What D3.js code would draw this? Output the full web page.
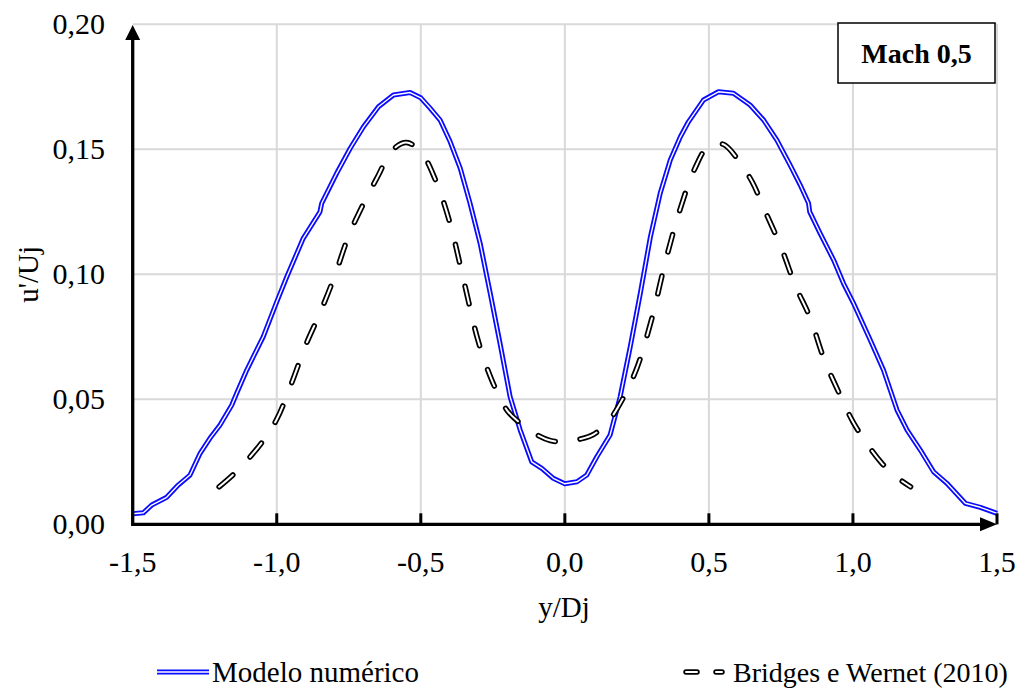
<!DOCTYPE html>
<html><head><meta charset="utf-8">
<script src="https://cdn.jsdelivr.net/npm/d3@7"></script>
<style>body{margin:0;background:#fff}svg{display:block}</style>
</head><body>
<svg id="c" width="1022" height="700"></svg>
<script>
// ---- data ----
const xTicks = [-1.5, -1.0, -0.5, 0.0, 0.5, 1.0, 1.5];
const yTicks = [0, 0.05, 0.10, 0.15, 0.20];
const modelX = [-1.5,-1.463,-1.434,-1.382,-1.342,-1.301,-1.266,-1.232,-1.197,-1.156,-1.139,-1.104,-1.047,-1.0,-0.965,-0.908,-0.850,-0.844,-0.792,-0.745,-0.699,-0.647,-0.595,-0.537,-0.500,-0.468,-0.433,-0.398,-0.363,-0.329,-0.294,-0.259,-0.225,-0.190,-0.155,-0.115,-0.080,-0.040,0.0,0.042,0.076,0.111,0.157,0.192,0.227,0.262,0.297,0.331,0.366,0.401,0.429,0.481,0.533,0.585,0.643,0.690,0.736,0.782,0.817,0.846,0.850,0.886,0.933,0.967,1.002,1.060,1.106,1.153,1.188,1.234,1.280,1.326,1.390,1.442,1.5];
const modelY = [0.0042,0.0046,0.0077,0.0108,0.0157,0.0197,0.0284,0.0344,0.0397,0.0477,0.0524,0.0617,0.075,0.089,0.099,0.1144,0.125,0.1284,0.1404,0.1504,0.159,0.167,0.1717,0.1727,0.1706,0.1665,0.1617,0.153,0.1424,0.1284,0.1124,0.0924,0.0724,0.051,0.0377,0.025,0.0224,0.0184,0.0162,0.017,0.0197,0.027,0.0357,0.051,0.071,0.0924,0.115,0.1324,0.1457,0.155,0.161,0.1697,0.173,0.1724,0.1677,0.1617,0.1537,0.1437,0.1357,0.1284,0.125,0.1164,0.1057,0.0964,0.0884,0.0737,0.0617,0.0457,0.0377,0.0297,0.021,0.0164,0.0084,0.0068,0.0044];
const expX = [-1.2,-1.15,-1.1,-1.05,-1.0,-0.95,-0.9,-0.85,-0.8,-0.75,-0.7,-0.65,-0.6,-0.55,-0.5,-0.45,-0.4,-0.35,-0.3,-0.25,-0.2,-0.15,-0.1,-0.05,0.0,0.05,0.1,0.15,0.2,0.25,0.3,0.35,0.4,0.45,0.5,0.55,0.6,0.65,0.7,0.75,0.8,0.85,0.9,0.95,1.0,1.05,1.1,1.15,1.2];
const expY = [0.015,0.020,0.026,0.033,0.042,0.056,0.0715,0.0845,0.099,0.1155,0.128,0.139,0.1495,0.1527,0.149,0.138,0.121,0.097,0.073,0.0567,0.0455,0.040,0.036,0.0335,0.033,0.034,0.036,0.041,0.050,0.0625,0.0815,0.1055,0.126,0.142,0.1515,0.152,0.146,0.137,0.124,0.111,0.0955,0.083,0.066,0.053,0.041,0.032,0.0245,0.019,0.015];
const seriesNames = ["Modelo numérico", "Bridges e Wernet (2010)"];
const xLabel = "y/Dj", yLabel = "u'/Uj", boxLabel = "Mach 0,5";

// ---- layout ----
const svg = d3.select("#c");
const x = d3.scaleLinear().domain([-1.5, 1.5]).range([132.7, 997]);
const y = d3.scaleLinear().domain([0, 0.2]).range([524.3, 24.3]);
const font = "'Liberation Serif','Times New Roman',serif";
const blue = "#0a0aff";

// gridlines
svg.append("g").selectAll("line").data(xTicks.slice(1)).join("line")
  .attr("x1", d => x(d)).attr("x2", d => x(d)).attr("y1", y(0)).attr("y2", y(0.2))
  .attr("stroke", "#d9d9d9").attr("stroke-width", 2);
svg.append("g").selectAll("line").data(yTicks.slice(1)).join("line")
  .attr("x1", x(-1.5)).attr("x2", x(1.5)).attr("y1", d => y(d)).attr("y2", d => y(d))
  .attr("stroke", "#d9d9d9").attr("stroke-width", 2);

// series
const model = modelX.map((v, i) => [v, modelY[i]]);
const exp = expX.map((v, i) => [v, expY[i]]);
const lineLin = d3.line().x(d => x(d[0])).y(d => y(d[1]));
const lineSmooth = d3.line().x(d => x(d[0])).y(d => y(d[1])).curve(d3.curveCatmullRom.alpha(0.5));

svg.append("path").attr("d", lineLin(model)).attr("fill", "none")
  .attr("stroke", blue).attr("stroke-width", 5).attr("stroke-linejoin", "round");
svg.append("path").attr("d", lineLin(model)).attr("fill", "none")
  .attr("stroke", "#fff").attr("stroke-width", 1.4).attr("stroke-linejoin", "round");

const dash = "18,25";
svg.append("path").attr("d", lineSmooth(exp)).attr("fill", "none")
  .attr("stroke", "#000").attr("stroke-width", 5.5).attr("stroke-dasharray", dash).attr("stroke-linecap", "round");
svg.append("path").attr("d", lineSmooth(exp)).attr("fill", "none")
  .attr("stroke", "#fff").attr("stroke-width", 2).attr("stroke-dasharray", dash).attr("stroke-linecap", "round");

// axes
const ax = svg.append("g");
ax.append("line").attr("x1", x(-1.5)).attr("x2", x(1.5) - 10).attr("y1", y(0)).attr("y2", y(0))
  .attr("stroke", "#000").attr("stroke-width", 3.3);
ax.append("path").attr("d", `M${x(1.5)},${y(0)} l-17,-7 l0,14 z`).attr("fill", "#000");
ax.append("line").attr("x1", x(-1.5)).attr("x2", x(-1.5)).attr("y1", y(0) + 1.6).attr("y2", 36)
  .attr("stroke", "#000").attr("stroke-width", 3.3);
ax.append("path").attr("d", `M${x(-1.5)},${25} l-7.5,15 l15,0 z`).attr("fill", "#000");
ax.selectAll(".tk").data(xTicks.slice(1)).join("line")
  .attr("x1", d => x(d)).attr("x2", d => x(d)).attr("y1", y(0)).attr("y2", y(0) - 11)
  .attr("stroke", "#000").attr("stroke-width", 3);

// tick labels
svg.append("g").selectAll("text").data(xTicks).join("text")
  .attr("x", d => x(d)).attr("y", 572).attr("text-anchor", "middle")
  .attr("font-family", font).attr("font-size", 30).text(d => d.toFixed(1).replace(".", ","));
svg.append("g").selectAll("text").data(yTicks).join("text")
  .attr("x", 105).attr("y", d => y(d) + 10).attr("text-anchor", "end")
  .attr("font-family", font).attr("font-size", 30).text(d => d.toFixed(2).replace(".", ","));

// axis titles
svg.append("text").attr("x", 564).attr("y", 617).attr("text-anchor", "middle")
  .attr("font-family", font).attr("font-size", 29).text(xLabel);
svg.append("text").attr("transform", `translate(38,${y(0.1)}) rotate(-90)`).attr("text-anchor", "middle")
  .attr("font-family", font).attr("font-size", 29).text(yLabel);

// Mach box
svg.append("rect").attr("x", 838).attr("y", 23).attr("width", 157).attr("height", 60)
  .attr("fill", "#fff").attr("stroke", "#000").attr("stroke-width", 1.5);
svg.append("text").attr("x", 916.5).attr("y", 63).attr("text-anchor", "middle")
  .attr("font-family", font).attr("font-weight", "bold").attr("font-size", 28).text(boxLabel);

// legend
const lg = svg.append("g");
const ly = 672;
lg.append("line").attr("x1", 157).attr("x2", 209).attr("y1", ly).attr("y2", ly)
  .attr("stroke", blue).attr("stroke-width", 5);
lg.append("line").attr("x1", 157).attr("x2", 209).attr("y1", ly).attr("y2", ly)
  .attr("stroke", "#fff").attr("stroke-width", 1.4);
lg.append("text").attr("x", 212).attr("y", ly + 10).attr("font-family", font).attr("font-size", 29).text(seriesNames[0]);
lg.append("line").attr("x1", 686).attr("x2", 722).attr("y1", ly).attr("y2", ly)
  .attr("stroke", "#000").attr("stroke-width", 5.5).attr("stroke-dasharray", "11,19").attr("stroke-linecap", "round");
lg.append("line").attr("x1", 686).attr("x2", 722).attr("y1", ly).attr("y2", ly)
  .attr("stroke", "#fff").attr("stroke-width", 2).attr("stroke-dasharray", "11,19").attr("stroke-linecap", "round");
lg.append("text").attr("x", 733).attr("y", ly + 10).attr("font-family", font).attr("font-size", 28).text(seriesNames[1]);
</script>
</body></html>
